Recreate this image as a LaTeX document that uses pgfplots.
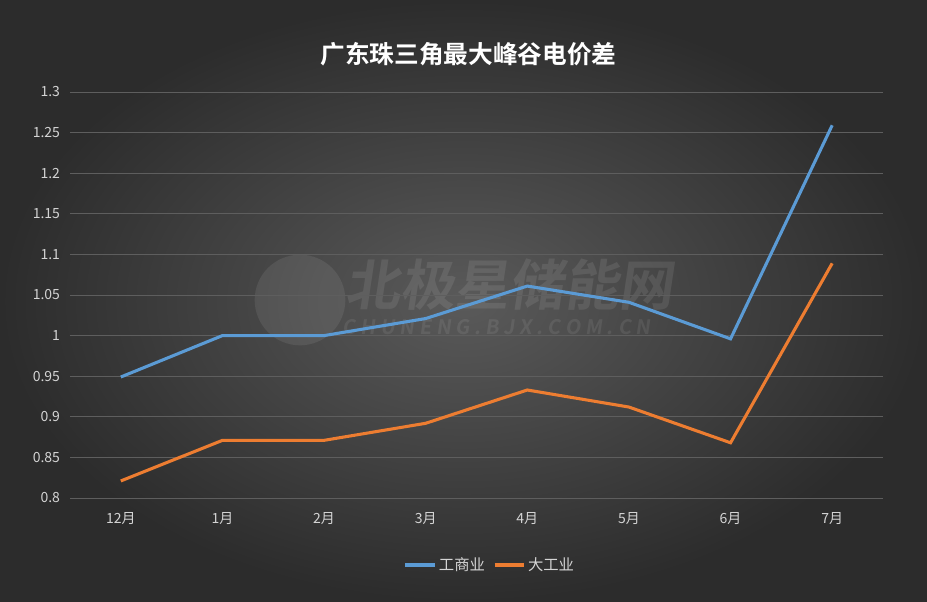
\documentclass[border=0pt]{standalone}
\usepackage{fontspec}
\usepackage{pgfplots}
\pgfplotsset{compat=1.18}
\setmainfont{Noto Sans CJK SC}
\newfontfamily\titlefont{Noto Sans CJK SC}[BoldFont={* Bold}]
\newfontfamily\wmfont{Noto Sans CJK SC}[BoldFont={* Bold}, FakeSlant=0.15]
\definecolor{bgouter}{HTML}{2C2C2C}
\definecolor{bginner}{HTML}{5A5A5A}
\definecolor{gridc}{HTML}{5E5E5E}
\definecolor{tickc}{HTML}{D4D4D4}
\definecolor{c1}{HTML}{5B9BD5}
\definecolor{c2}{HTML}{ED7D31}

\begin{document}
\begin{tikzpicture}
% background, 927x602 px at 0.75pt per px
\shade[inner color=bginner, outer color=bgouter] (0,0) rectangle (695.25pt,451.5pt);
\clip (0,0) rectangle (695.25pt,451.5pt);
% faint watermark
\fill[white, opacity=0.08] (225pt,226.5pt) circle (34pt);
\node[white, opacity=0.09, font=\wmfont\fontsize{41}{44}\selectfont\bfseries, anchor=west, inner sep=0pt] at (259pt,238pt) {北极星储能网};
\node[white, opacity=0.08, font=\wmfont\fontsize{15}{16}\selectfont\bfseries, anchor=west, inner sep=0pt] at (257pt,206pt) {C H U N E N G . B J X . C O M . C N};
\begin{axis}[
    at={(52.5pt,78pt)}, anchor=south west,
    scale only axis,
    width=609.75pt, height=304.5pt,
    xmin=-0.5, xmax=7.5,
    ymin=0.8, ymax=1.3,
    xtick={0,...,7},
    xticklabels={12月,1月,2月,3月,4月,5月,6月,7月},
    ytick={0.8,0.85,...,1.31},
    yticklabel style={/pgf/number format/fixed, /pgf/number format/precision=2},
    /pgf/number format/assume math mode=true,
    ymajorgrids,
    grid style={gridc, line width=0.6pt},
    axis line style={draw=none},
    axis x line*=bottom,
    x axis line style={gridc, line width=0.8pt},
    major tick length=0pt,
    tick label style={tickc, font=\fontsize{10.5}{12}\selectfont},
    yticklabel style={xshift=-4pt},
    xticklabel style={yshift=-7pt},
    legend style={at={(0.517,-0.165)}, anchor=center, draw=none, fill=none,
        text=tickc, font=\fontsize{11.5}{13}\selectfont, legend columns=2,
        /tikz/every even column/.append style={column sep=4pt}},
    legend image code/.code={\draw[#1, line width=2.3pt] (0pt,0pt) -- (22pt,0pt);},
    title={\titlefont\bfseries 广东珠三角最大峰谷电价差},
    title style={white, font=\fontsize{18.5}{22}\selectfont, at={(0.49,1)}, yshift=10pt},
]
\addplot[c1, line width=2.3pt, mark=none] coordinates {
(0,0.949) (1,1.000) (2,1.000) (3,1.021) (4,1.061) (5,1.041) (6,0.996) (7,1.259)
};
\addlegendentry{工商业}
\addplot[c2, line width=2.3pt, mark=none] coordinates {
(0,0.821) (1,0.871) (2,0.871) (3,0.892) (4,0.933) (5,0.912) (6,0.868) (7,1.089)
};
\addlegendentry{大工业}
\end{axis}
\end{tikzpicture}
\end{document}
